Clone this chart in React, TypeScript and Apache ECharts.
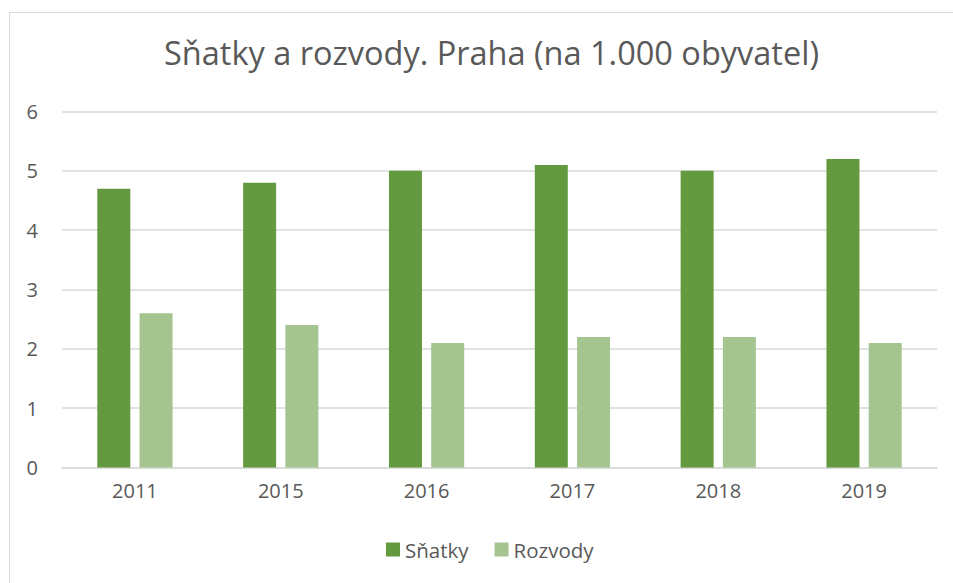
import React, { useEffect, useRef } from "react";
import * as echarts from "echarts";

const categories = ["2011", "2015", "2016", "2017", "2018", "2019"];
const snatky = [4.7, 4.8, 5.0, 5.1, 5.0, 5.2];
const rozvody = [2.6, 2.4, 2.1, 2.2, 2.2, 2.1];
const seriesNames = ["Sňatky", "Rozvody"];
const titleText = "Sňatky a rozvody. Praha (na 1.000 obyvatel)";

export default function App() {
  const ref = useRef<HTMLDivElement>(null);
  useEffect(() => {
    document.body.style.margin = "0";
    const chart = echarts.init(ref.current!, null, { renderer: "svg" });
    const font = "Open Sans";
    chart.setOption({
      animation: false,
      backgroundColor: "#ffffff",
      title: {
        text: titleText,
        left: 159,
        top: 31,
        textStyle: { fontFamily: font, fontSize: 32.5, fontWeight: "normal", color: "#595959" },
      },
      graphic: [
        {
          type: "rect",
          shape: { x: 9.5, y: 12.5, width: 960, height: 600 },
          style: { fill: "none", stroke: "#d9d9d9", lineWidth: 1 },
          silent: true,
        },
      ],
      legend: {
        bottom: 18,
        left: 381,
        itemWidth: 14,
        itemHeight: 14,
        itemGap: 26,
        icon: "rect",
        textStyle: { fontFamily: font, fontSize: 20.5, color: "#595959" },
        data: seriesNames,
      },
      grid: { left: 62, right: 16, top: 111.5, bottom: 115.5, containLabel: false },
      xAxis: {
        type: "category",
        data: categories,
        axisLine: { lineStyle: { color: "#d9d9d9", width: 1.5 } },
        axisTick: { show: false },
        axisLabel: { fontFamily: font, fontSize: 20, color: "#595959", margin: 13 },
      },
      yAxis: {
        type: "value",
        min: 0,
        max: 6,
        interval: 1,
        axisLine: { show: false },
        axisTick: { show: false },
        axisLabel: { fontFamily: font, fontSize: 20, color: "#595959", margin: 24 },
        splitLine: { lineStyle: { color: "#d9d9d9", width: 1.5 } },
      },
      series: [
        {
          name: seriesNames[0],
          type: "bar",
          data: snatky,
          barWidth: 33,
          barGap: "28%",
          itemStyle: { color: "#639a3f" },
        },
        {
          name: seriesNames[1],
          type: "bar",
          data: rozvody,
          barWidth: 33,
          itemStyle: { color: "#a4c590" },
        },
      ],
    });
    return () => chart.dispose();
  }, []);
  return <div ref={ref} style={{ width: 953, height: 583 }} />;
}
